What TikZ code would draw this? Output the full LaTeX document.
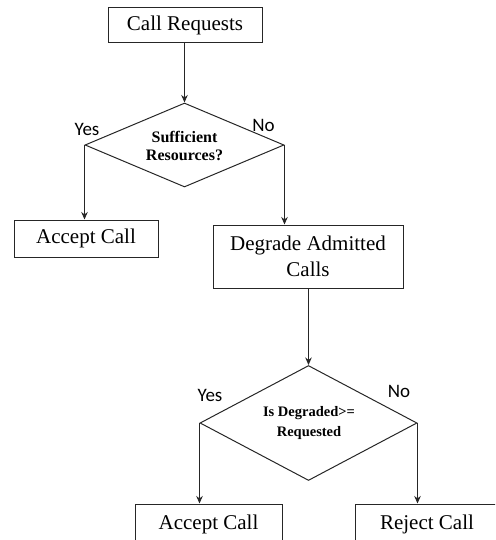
\documentclass[tikz,border=0pt]{standalone}
\usepackage{fontspec}
\setmainfont{Liberation Serif}
\newfontfamily\yesfont{Carlito}
\usetikzlibrary{shapes.geometric,arrows.meta}
\tikzset{
  boxnode/.style={draw=black!85, line width=1pt, rectangle, inner sep=0pt, align=center,
    font=\fontsize{21}{26}\selectfont},
  decnode/.style={draw=black!85, line width=1pt, diamond, inner sep=0pt},
  dectext/.style={inner sep=0pt, align=center, font=\bfseries\fontsize{16}{18}\selectfont},
  dectextb/.style={inner sep=0pt, align=center, font=\bfseries\fontsize{14.5}{20}\selectfont},
  yn/.style={inner sep=0pt, font=\yesfont\fontsize{19}{22}\selectfont},
  conn/.style={draw=black!85, line width=0.9pt, -{Stealth[length=7.5pt,width=6.5pt]}}
}
\begin{document}
\begin{tikzpicture}[x=1pt,y=-1pt]
\useasboundingbox (0,0) rectangle (495,540);
\clip (0,0) rectangle (495,540);
\node[boxnode, minimum width=154pt, minimum height=35pt] (cr) at (185,25.5) {Call Requests};
\node[decnode, minimum width=199pt, minimum height=84pt] (d1) at (184.5,145) {};
\node[dectext] (t1) at (184.5,146) {Sufficient\\Resources?};
\node[yn] (yes1) at (87,129) {Yes};
\node[yn] (no1) at (263.5,125) {No};
\node[boxnode, minimum width=144pt, minimum height=37pt] (acc1) at (86,238.5) {Accept Call};
\node[boxnode, minimum width=190pt, minimum height=63pt] (deg) at (308,256.5) {Degrade Admitted\\Calls};
\node[decnode, minimum width=217pt, minimum height=115pt] (d2) at (308.5,423) {};
\node[dectextb] (t2) at (309,423) {Is Degraded>=\\Requested};
\node[yn] (yes2) at (210,395) {Yes};
\node[yn] (no2) at (399,391) {No};
\node[boxnode, minimum width=147pt, minimum height=40pt] (acc2) at (208.5,524) {Accept Call};
\node[boxnode, minimum width=180pt, minimum height=40pt] (rej) at (445,524) {\hspace*{-36pt}Reject Call};
\draw[conn] (cr.south -| d1.north) -- (d1.north);
\draw[conn] (d1.west) -- (d1.west |- acc1.north);
\draw[conn] (d1.east) -- (d1.east |- deg.north);
\draw[conn] (deg.south -| d2.north) -- (d2.north);
\draw[conn] (d2.west) -- (d2.west |- acc2.north);
\draw[conn] (d2.east) -- (d2.east |- rej.north);
\end{tikzpicture}
\end{document}
